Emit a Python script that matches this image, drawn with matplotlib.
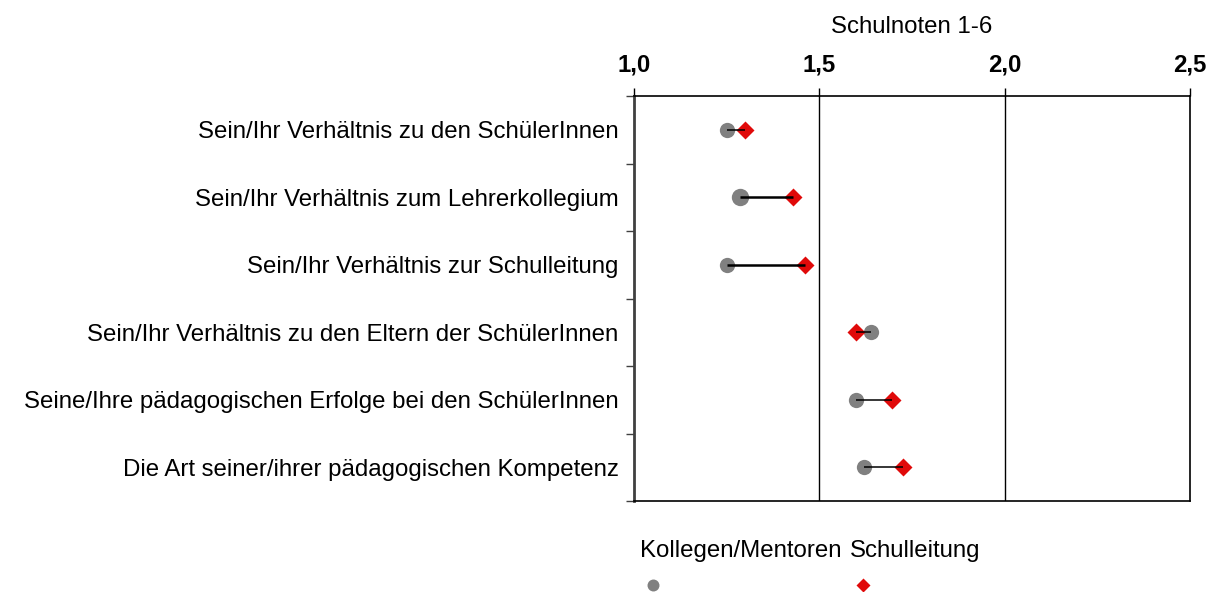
import matplotlib
matplotlib.use("Agg")
import matplotlib.pyplot as plt
from matplotlib.lines import Line2D
import numpy as np

plt.rcParams['font.family'] = ['Liberation Sans', 'DejaVu Sans']

items = [
    "Sein/Ihr Verhältnis zu den SchülerInnen",
    "Sein/Ihr Verhältnis zum Lehrerkollegium",
    "Sein/Ihr Verhältnis zur Schulleitung",
    "Sein/Ihr Verhältnis zu den Eltern der SchülerInnen",
    "Seine/Ihre pädagogischen Erfolge bei den SchülerInnen",
    "Die Art seiner/ihrer pädagogischen Kompetenz",
]
kollegen = [1.25, 1.285, 1.25, 1.64, 1.60, 1.62]
schulleitung = [1.30, 1.43, 1.46, 1.60, 1.695, 1.725]
xticks = [1.0, 1.5, 2.0, 2.5]
xtick_labels = ["1,0", "1,5", "2,0", "2,5"]

GRAY = "#808080"
RED = "#e00a0a"
FS = 17.3

fig = plt.figure(figsize=(12.15, 5.92), dpi=100)
ax = fig.add_axes([634 / 1215, 1 - 501 / 592, 556 / 1215, 405 / 592])

y = np.arange(len(items))
# connecting lines are drawn over the markers, like in the original
for i in range(len(items)):
    ax.plot([kollegen[i], schulleitung[i]], [y[i], y[i]], color="black",
            lw=1.8 if i in (1, 2) else 1.1, zorder=4, solid_capstyle="butt")
circle_sizes = [11, 12.5, 11, 11, 11, 11]
for i in range(len(items)):
    ax.plot(kollegen[i], y[i], "o", color=GRAY, ms=circle_sizes[i], mec="none", zorder=3)
ax.plot(schulleitung, y, "D", color=RED, ms=9.5, mec="none", zorder=3)

ax.set_xlim(1.0, 2.5)
ax.set_ylim(len(items) - 0.5, -0.5)

ax.xaxis.tick_top()
ax.xaxis.set_label_position("top")
ax.set_xticks(xticks)
ax.set_xticklabels(xtick_labels, fontsize=FS, fontweight="bold")
ax.tick_params(axis="x", direction="out", length=6, width=1, pad=8)
ax.set_xlabel("Schulnoten 1-6", fontsize=FS, labelpad=15)

ax.set_yticks(y)
ax.set_yticklabels(items, fontsize=FS)
ax.tick_params(axis="y", which="major", length=0, pad=11)
ax.set_yticks(np.arange(len(items) + 1) - 0.5, minor=True)
ax.tick_params(axis="y", which="minor", direction="out", length=6, width=1,
               color="#404040")

for x in xticks[1:3]:
    ax.axvline(x, color="black", lw=1, zorder=1)

for s in ax.spines.values():
    s.set_linewidth(1.2)
ax.spines["left"].set_color("#404040")
ax.spines["left"].set_linewidth(2)

# legend: labels above markers
fig.text(640 / 1215, 1 - 551 / 592, "Kollegen/Mentoren", fontsize=FS, va="center")
fig.text(850 / 1215, 1 - 551 / 592, "Schulleitung", fontsize=FS, va="center")
fig.add_artist(Line2D([653 / 1215], [1 - 585 / 592], marker="o", ms=8.6,
                      color=GRAY, mec="none", transform=fig.transFigure))
fig.add_artist(Line2D([862.5 / 1215], [1 - 585 / 592], marker="D", ms=7,
                      color=RED, mec="none", transform=fig.transFigure))

fig.savefig("out.png", dpi=100)
